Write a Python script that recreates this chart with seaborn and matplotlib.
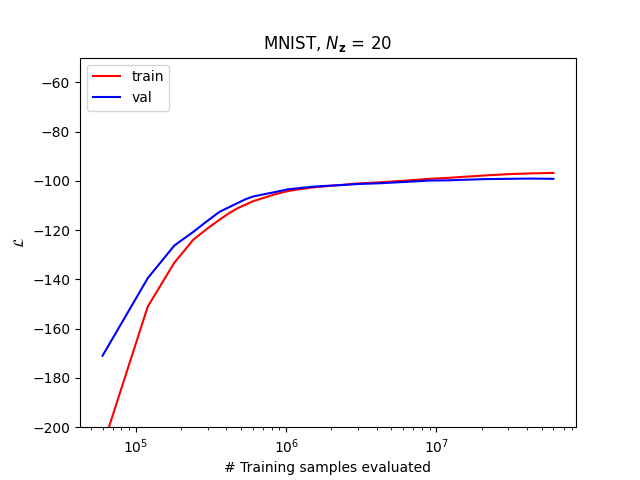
# MNIST training curve, N_z = 20
import numpy as np
import pandas as pd
import matplotlib
matplotlib.use('Agg')
import matplotlib.pyplot as plt
import seaborn as sns

samples_per_epoch = 60000
epochs = [1, 2, 3, 4, 5, 6, 7, 8, 9, 10, 12, 14, 17, 20, 25, 32, 40, 50,
          70, 100, 150, 200, 250, 358, 500, 700, 1000]
train_loss = [-208, -151, -133.3, -124, -119.3, -115.8, -113, -111, -109.6,
              -108.3, -106.8, -105.5, -104.2, -103.5, -102.7, -102.1, -101.6,
              -101.1, -100.6, -100.0, -99.2, -98.8, -98.4, -97.8, -97.3,
              -97.0, -96.8]
val_loss = [-171, -139.5, -126.3, -120.8, -116.2, -112.6, -110.6, -108.9,
            -107.4, -106.4, -105.4, -104.6, -103.5, -103.0, -102.4, -102.0,
            -101.7, -101.3, -101.0, -100.5, -99.9, -99.8, -99.6, -99.3,
            -99.2, -99.1, -99.2]

df = pd.DataFrame({
    'samples': np.array(epochs) * samples_per_epoch,
    'train': train_loss,
    'val': val_loss,
})

fig, ax = plt.subplots(figsize=(6.4, 4.8), dpi=100)
sns.lineplot(x='samples', y='train', data=df, color='red', label='train', ax=ax)
sns.lineplot(x='samples', y='val', data=df, color='blue', label='val', ax=ax)
ax.set_xscale('log')
ax.set_ylim(-200, -50)
ax.set_title(r'MNIST, $N_{\mathbf{z}}$ = 20')
ax.set_xlabel('# Training samples evaluated')
ax.set_ylabel(r'$\mathcal{L}$')
ax.legend(loc='upper left')

plt.savefig('out.png')
